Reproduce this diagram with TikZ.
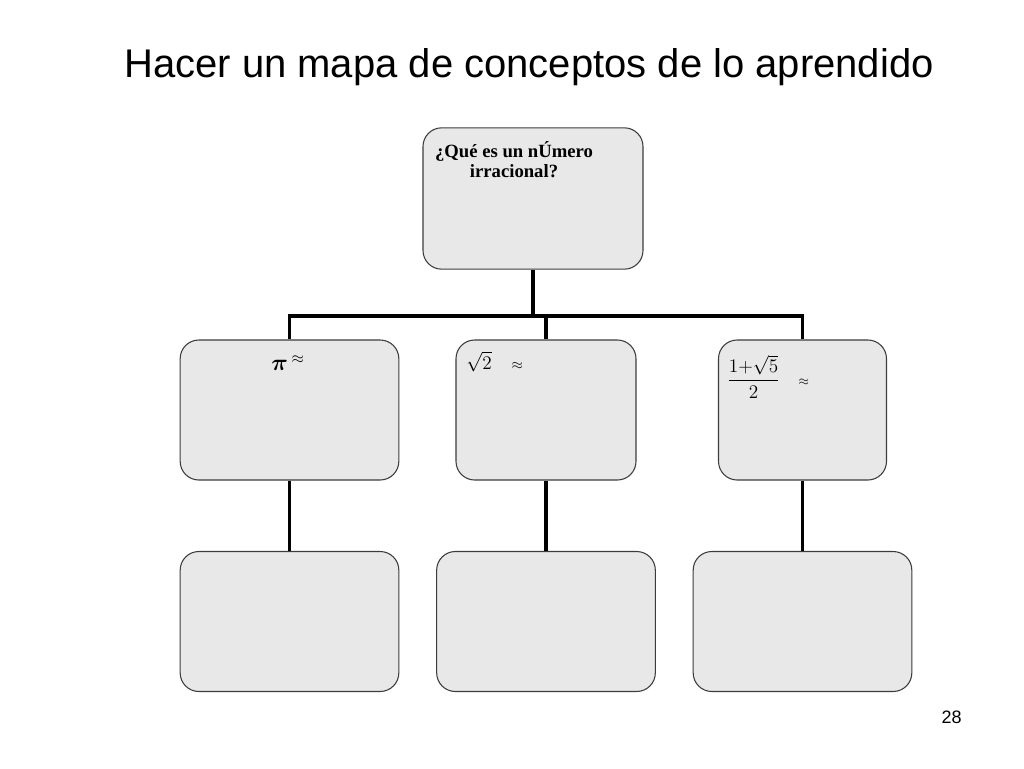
\documentclass[tikz,border=0pt]{standalone}
\usepackage{amsmath,amssymb}
\usepackage{fontspec}
\setmainfont{Liberation Serif}
\newfontfamily\titlefont{Liberation Sans}
\usepackage{xcolor}
\usepackage{tikz}
\usetikzlibrary{calc,positioning}
\definecolor{boxfill}{HTML}{E8E8E8}
\definecolor{boxline}{HTML}{3C3C3C}
\tikzset{
  caja/.style={draw=boxline, fill=boxfill, line width=0.8pt, rounded corners=14pt,
    minimum height=105pt, inner sep=0pt},
  enlace/.style={draw=black, line width=2.3pt},
  lab/.style={font=\fontsize{15}{17}\selectfont, inner sep=0pt},
  titulo/.style={font=\titlefont\fontsize{30}{36}\selectfont, inner sep=0pt},
}

\begin{document}
\begin{tikzpicture}[x=0.75pt, y=-0.75pt]
  \useasboundingbox (0,0) rectangle (1024,768);

  \node[titulo, anchor=base] (tit) at (529,77) {Hacer un mapa de conceptos de lo aprendido};

  \node[caja, minimum width=165pt, minimum height=106pt] (q) at (533,198.5) {};
  \node[caja, minimum width=164pt] (pi) at (289.5,410) {};
  \node[caja, minimum width=135pt] (raiz) at (546,410) {};
  \node[caja, minimum width=126pt] (aureo) at (802.5,410) {};
  \node[caja, minimum width=164pt] (r1) at (289.5,621.5) {};
  \node[caja, minimum width=164pt] (r2) at (546,621.5) {};
  \node[caja, minimum width=164pt] (r3) at (802.5,621.5) {};

  \coordinate (bus) at (0,316);
  \draw[enlace] (q.south) -- (q.south |- bus);
  \draw[enlace] (pi.north) |- (aureo.north |- bus) -- (aureo.north);
  \draw[enlace] (raiz.north) -- (raiz.north |- bus);
  \draw[enlace] (pi.south) -- (r1.north);
  \draw[enlace] (raiz.south) -- (r2.north);
  \draw[enlace] (aureo.south) -- (r3.north);

  \node[lab, font=\bfseries\fontsize{14}{15}\selectfont, align=center, anchor=north]
    (qtxt) at (514,141) {¿Qué es un nÚmero\\irracional?};
  \node[lab, font=\fontsize{18}{20}\selectfont, anchor=base west] (pitxt) at (271,370)
    {$\boldsymbol{\pi}\,\raisebox{0.55ex}{$\scriptstyle\approx$}$};
  \node[lab, anchor=base west] (raiztxt) at (466,369) {$\sqrt{2}$\quad$\scriptstyle\approx$};
  \node[lab, font=\fontsize{14}{16}\selectfont, anchor=west] (aureotxt) at (727,377)
    {$\dfrac{1{+}\sqrt{5}}{2}$\quad$\scriptstyle\approx$};

  \node[font=\titlefont\fontsize{13.5}{16}\selectfont, inner sep=0pt, anchor=base] (pag) at (951.5,723) {28};
\end{tikzpicture}
\end{document}
